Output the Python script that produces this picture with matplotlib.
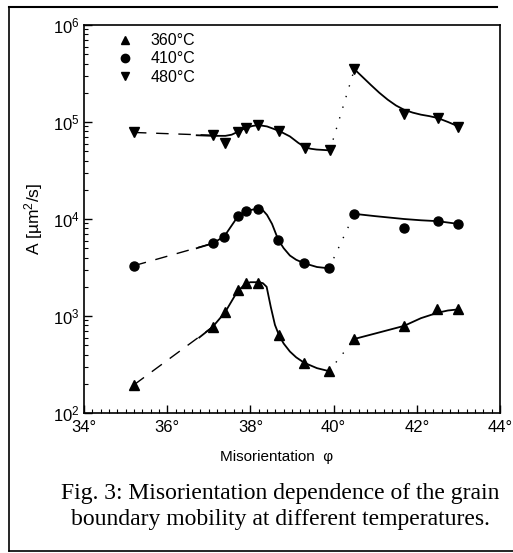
import matplotlib
matplotlib.use("Agg")
import matplotlib.pyplot as plt
from matplotlib.ticker import MultipleLocator, LogLocator, NullFormatter, FixedLocator, FixedFormatter
from matplotlib.lines import Line2D

plt.rcParams['font.family'] = ['Liberation Sans', 'DejaVu Sans']
plt.rcParams['mathtext.fontset'] = 'custom'
plt.rcParams['mathtext.rm'] = 'Liberation Sans'
plt.rcParams['mathtext.it'] = 'Liberation Sans'

# measured points (misorientation in degrees, A in um^2/s)
phi_360 = [35.2, 37.09, 37.39, 37.69, 37.89, 38.19, 38.69, 39.29, 39.89, 40.5, 41.69, 42.49, 43.0]
A_360 = [195, 770, 1090, 1850, 2200, 2200, 630, 330, 270, 580, 790, 1170, 1170]

phi_410 = [35.2, 37.09, 37.37, 37.69, 37.89, 38.19, 38.67, 39.29, 39.89, 40.5, 41.69, 42.5, 43.0]
A_410 = [3300, 5600, 6600, 10700, 12000, 12600, 6100, 3500, 3100, 11300, 8100, 9500, 8900]

phi_480 = [35.2, 37.09, 37.40, 37.69, 37.89, 38.19, 38.69, 39.31, 39.91, 40.5, 41.69, 42.5, 43.0]
A_480 = [78000, 73000, 61000, 78000, 87000, 93000, 81000, 54000, 51000, 350000, 120000, 110000, 89000]

# hand drawn fit curves
fit_360_left_x = [36.77, 37.09, 37.39, 37.69, 37.89, 38.0, 38.2, 38.3, 38.39, 38.49, 38.59, 38.69,
                  38.8, 38.95, 39.1, 39.29, 39.6, 39.89]
fit_360_left_y = [600, 770, 1090, 1800, 2150, 2230, 2230, 2180, 2000, 1240, 810, 630,
                  520, 430, 375, 330, 290, 270]
fit_360_right_x = [40.5, 41.0, 41.69, 42.1, 42.5, 42.75, 43.0]
fit_360_right_y = [580, 660, 790, 950, 1080, 1140, 1170]

fit_410_left_x = [36.71, 37.09, 37.37, 37.69, 37.89, 38.05, 38.19, 38.3, 38.4, 38.52, 38.67,
                  38.8, 38.95, 39.1, 39.29, 39.6, 39.89]
fit_410_left_y = [5000, 5600, 6600, 10500, 12000, 12500, 12700, 12300, 11000, 8900, 6100,
                  5000, 4200, 3800, 3500, 3200, 3100]
fit_410_right_x = [40.5, 41.0, 41.69, 42.1, 42.5, 43.0]
fit_410_right_y = [11300, 10700, 10000, 9700, 9500, 8900]

fit_480_left_x = [36.71, 37.09, 37.4, 37.55, 37.69, 37.89, 38.05, 38.19, 38.4, 38.69, 38.95,
                  39.15, 39.31, 39.45, 39.59, 39.91]
fit_480_left_y = [73000, 72000, 72000, 74000, 79000, 87000, 91000, 93000, 90000, 81000, 71000,
                  61000, 55000, 53000, 52000, 51000]
fit_480_right_x = [40.5, 40.7, 40.9, 41.1, 41.3, 41.5, 41.69, 41.9, 42.1, 42.3, 42.5, 42.75, 43.0]
fit_480_right_y = [350000, 290000, 240000, 200000, 170000, 148000, 134000, 125000, 119000,
                   115000, 110000, 100000, 90000]

series = [
    ("360°C", "^", phi_360, A_360, fit_360_left_x, fit_360_left_y, fit_360_right_x, fit_360_right_y),
    ("410°C", "o", phi_410, A_410, fit_410_left_x, fit_410_left_y, fit_410_right_x, fit_410_right_y),
    ("480°C", "v", phi_480, A_480, fit_480_left_x, fit_480_left_y, fit_480_right_x, fit_480_right_y),
]

x_ticks = [34, 36, 38, 40, 42, 44]
x_tick_labels = ["34°", "36°", "38°", "40°", "42°", "44°"]

W, H = 513, 553
fig = plt.figure(figsize=(W / 100, H / 100), dpi=100)
ax = fig.add_axes([84 / W, 1 - 413 / H, 416 / W, 388 / H])

for label, mk, phi, A, flx, fly, frx, fry in series:
    # dashed part from the lowest angle
    ax.plot(phi[:2], A[:2], color="black", linestyle=(0, (9, 7)), linewidth=1.0)
    # dotted jump across 40 deg
    ax.plot(phi[8:10], A[8:10], color="black", linestyle=(0, (1, 7)), linewidth=1.0)
    ax.plot(flx, fly, color="black", linewidth=1.3)
    ax.plot(frx, fry, color="black", linewidth=1.3)
    ax.plot(phi, A, linestyle="none", marker=mk, color="black", markersize=6.5)

ax.set_yscale("log")
ax.set_xlim(34, 44)
ax.set_ylim(1e2, 1e6)

ax.xaxis.set_major_locator(FixedLocator(x_ticks))
ax.xaxis.set_major_formatter(FixedFormatter(x_tick_labels))
ax.xaxis.set_minor_locator(MultipleLocator(0.2))
ax.yaxis.set_major_locator(LogLocator(base=10, numticks=10))
ax.yaxis.set_minor_locator(LogLocator(base=10, subs=range(2, 10), numticks=20))
ax.yaxis.set_minor_formatter(NullFormatter())

ax.tick_params(which="both", direction="in", top=False, right=False, labelsize=12)
ax.tick_params(which="major", length=6, width=1.0, pad=5)
ax.tick_params(axis="y", which="major", pad=3)
ax.tick_params(which="minor", length=3, width=0.8)
for side in ax.spines.values():
    side.set_linewidth(1.2)

ax.set_ylabel("A [µm$^2$/s]", fontsize=12.5, labelpad=6)

# legend
handles = [Line2D([], [], linestyle="none", marker=m, color="black", markersize=6)
           for m in ["^", "o", "v"]]
ax.legend(handles, [s[0] for s in series], loc="upper left", bbox_to_anchor=(0.04, 1.012),
          frameon=False, fontsize=11.5, handlelength=1.4, handletextpad=0.9,
          labelspacing=0.2, borderpad=0.3)

fig.text(277 / W, 1 - 457 / H, "Misorientation  φ", ha="center", va="center", fontsize=11)
fig.text(280 / W, 1 - 494 / H, "Fig. 3: Misorientation dependence of the grain",
         ha="center", va="center", fontsize=17, family="Liberation Serif")
fig.text(280 / W, 1 - 519 / H, "boundary mobility at different temperatures.",
         ha="center", va="center", fontsize=17, family="Liberation Serif")

# outer frame of the scanned figure
fig.add_artist(Line2D([9 / W, 497 / W], [1 - 7 / H, 1 - 7 / H], color="black", linewidth=1.5))
fig.add_artist(Line2D([9 / W, 9 / W], [1 - 7 / H, 1 - 551 / H], color="black", linewidth=1.2))
fig.add_artist(Line2D([9 / W, 1.0], [1 - 551 / H, 1 - 551 / H], color="black", linewidth=1.2))

fig.savefig("out.png", dpi=100)
